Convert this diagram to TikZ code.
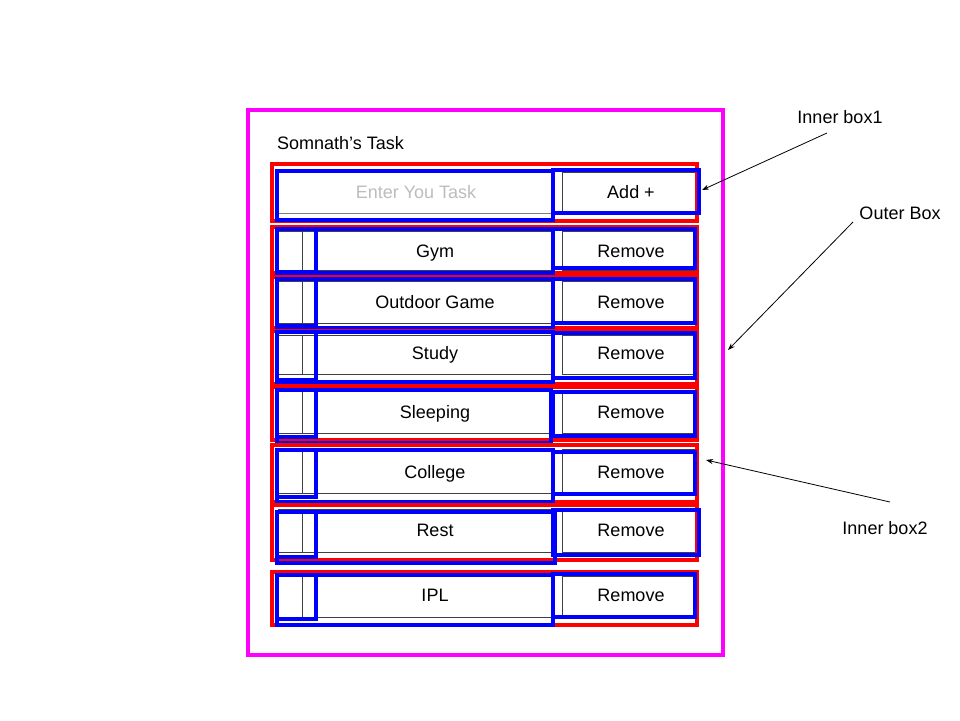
\documentclass[tikz,border=0pt]{standalone}
\usepackage{fontspec}
\setmainfont{Liberation Sans}
\usetikzlibrary{arrows.meta}
\definecolor{mag}{HTML}{FF00FF}
\definecolor{rd}{HTML}{FF0000}
\definecolor{bl}{HTML}{0000FF}
\definecolor{thingray}{HTML}{404040}
\definecolor{phgray}{HTML}{BDBDBD}
\tikzset{
  x=1pt, y=-1pt,
  outerbox/.style={draw=mag, line width=4pt},
  redbox/.style={draw=rd, line width=4pt},
  bluebox/.style={draw=bl, line width=4.5pt},
  thinbox/.style={draw=thingray, line width=0.8pt},
  txt/.style={inner sep=0pt, font=\fontsize{18}{21}\selectfont, text=black, anchor=base},
  ptr/.style={draw=black, line width=0.8pt, -{Stealth[length=7pt,width=5pt]}}
}
\begin{document}
\begin{tikzpicture}
\useasboundingbox[fill=white] (0,0) rectangle (960,720);
% outer box
\draw[outerbox] (248,110) rectangle (723,655);
\node[txt, anchor=base west] (title) at (277,149.5) {Somnath’s Task};
% input row
\draw[thinbox, draw=gray] (278,172) rectangle (553,213);
\draw[thinbox] (562,172) rectangle (695,213);
\draw[redbox] (272,164) rectangle (697,221);
\draw[bluebox] (277,171) rectangle (553,220);
\draw[bluebox] (553,170) rectangle (699,213);
\node[txt, text=phgray] (input) at (416,198.5) {Enter You Task};
\node[txt] (add) at (631,198.5) {Add +};
% task rows
\foreach \t/\yc/\rt/\rb/\bt/\bb/\cb/\tb/\rtt/\rbb/\bx/\brx [count=\i] in {
  {Gym}/251/227/273/229/273/272/270/229/268/553/695,
  {Outdoor Game}/302/277/328/279/328/326/323/279/323/553/695,
  {Study}/353/331/384/332/382/380/374/333/378/553/695,
  {Sleeping}/412/387/440/390/443/437/433/392/436/551/695,
  {College}/472/445/502/450/502/497/493/452/494/553/695,
  {Rest}/530/505/560/512/563/557/552/510/555/555/699,
  {IPL}/595/572/625/575/625/619/617/574/617/553/695}{
  \draw[thinbox] (278,\rt+4) rectangle (553,\tb);
  \draw[thinbox] (302,\rt+4) -- (302,\tb);
  \draw[thinbox] (562,\rt+4) rectangle (695,\tb);
  \draw[redbox] (272,\rt) rectangle (697,\rb);
  \draw[bluebox] (277,\bt) rectangle (\bx,\bb);
  \draw[bluebox] (277,\bt) rectangle (316,\cb);
  \draw[bluebox] (553,\rtt) rectangle (\brx,\rbb);
  \node[txt] (task\i) at (435,\yc+6.5) {\t};
  \node[txt] (rem\i) at (631,\yc+6.5) {Remove};
}
% annotations
\node[txt] (ib1) at (840,123.5) {Inner box1};
\node[txt] (ob) at (900,219.5) {Outer Box};
\node[txt] (ib2) at (885,534.5) {Inner box2};
\coordinate (s1) at (827,133);
\coordinate (e1) at (702,190);
\coordinate (s2) at (853,222);
\coordinate (e2) at (728,350);
\coordinate (s3) at (890,502);
\coordinate (e3) at (706,460);
\draw[ptr] (s1) -- (e1);
\draw[ptr] (s2) -- (e2);
\draw[ptr] (s3) -- (e3);
\end{tikzpicture}
\end{document}
